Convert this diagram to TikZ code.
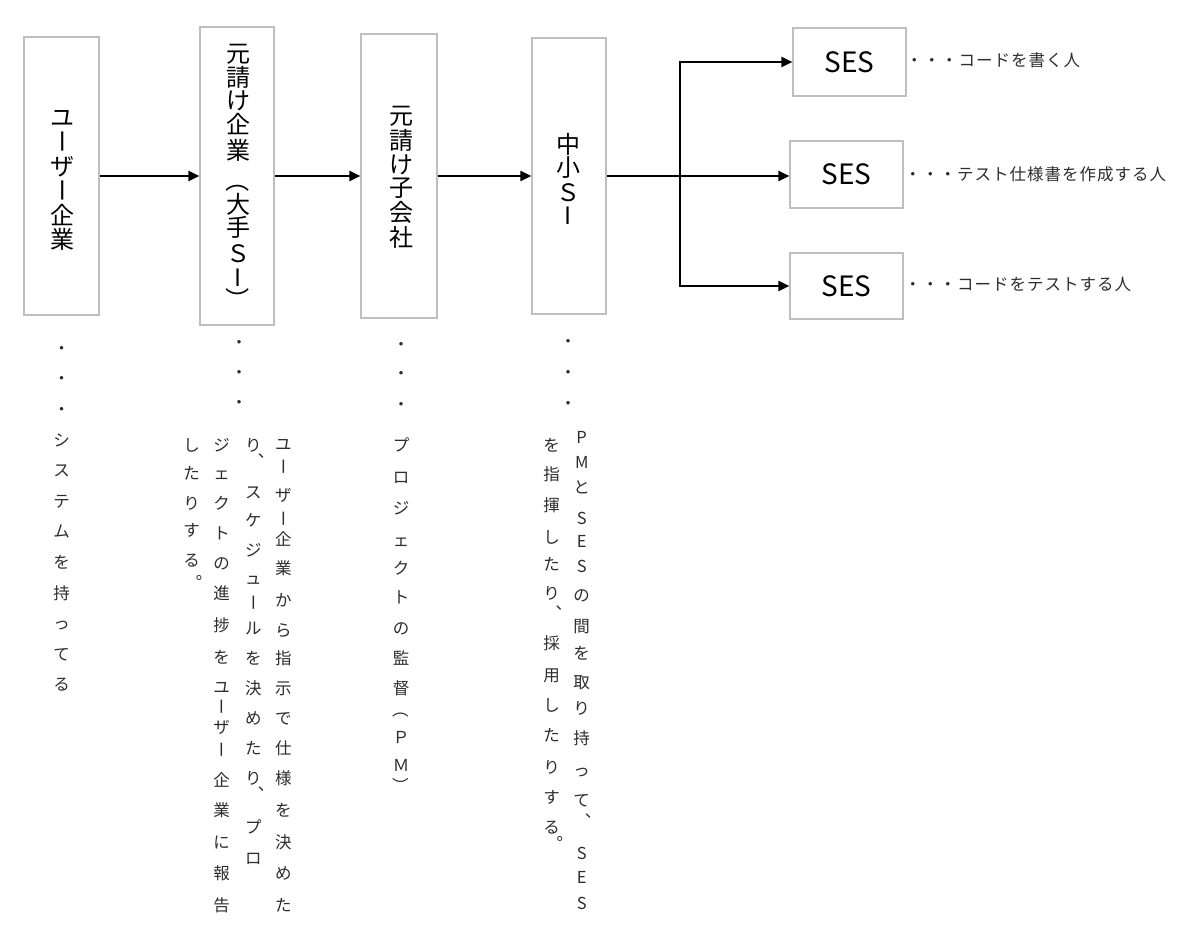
\documentclass[tikz,border=0pt]{standalone}
\usepackage{fontspec}
\usepackage{graphicx}
\setmainfont{Noto Sans CJK JP}
\newfontfamily\jpls[LetterSpace=6]{Noto Sans CJK JP}
\usetikzlibrary{arrows.meta}
\definecolor{boxgray}{RGB}{191,191,191}
\definecolor{txt}{RGB}{45,45,45}
% one character cell centred on the current point of a vertical list
\newcommand\cel[1]{\vbox to 0pt{\vss\hbox to 1em{\hss\vrule height .88em depth .12em width 0pt\relax#1\hss}\vss}}
% character whose em-box centre is at absolute y
\newcommand\at[2]{\vbox to 0pt{\kern\dimexpr#1pt-\ytop pt\relax\cel{#2}\vss}}
% punctuation whose ink centre is at absolute y, shifted right by #2
\newcommand\pu[3]{\vbox to 0pt{\kern\dimexpr#1pt-\ytop pt-.32em\relax\cel{\kern2\dimexpr#2pt+.29em\relax#3}\vss}}
% glyph turned for vertical writing
\newcommand\vv[1]{\rotatebox[origin=c]{-90}{\raisebox{0pt}[.88em][.12em]{#1}}}
% vertical column node: [style]{name}{x}{y first}{y last}{cells}
\newcommand\vcol[6][]{\node[vtext,#1] (#2) at (#3,{(#4+#5)/2}) {\def\ytop{#4}\vbox{\offinterlineskip\kern.5em #6\kern\dimexpr#5pt-#4pt+.5em\relax}};}
\tikzset{
  box/.style={draw=boxgray, line width=1.2pt, fill=white, inner sep=0pt},
  vtext/.style={inner sep=0pt, text=txt, font=\fontsize{16.5}{20}\selectfont},
  vhead/.style={text=black, font=\fontsize{24}{28}\selectfont},
  lab/.style={inner sep=0pt, anchor=west, text height=.88em, text depth=.12em, text=txt, font=\jpls\fontsize{16.5}{20}\selectfont},
  ses/.style={box, minimum width=113pt, font=\fontsize{28}{32}\selectfont},
  conn/.style={draw=black, line width=2pt, -{Triangle[length=11pt,width=10pt]}},
  conn2/.style={draw=black, line width=2pt, {Triangle[length=11pt,width=10pt]}-{Triangle[length=11pt,width=10pt]}},
}
\begin{document}
\begin{tikzpicture}[x=1pt,y=-1pt]
\useasboundingbox (0,0) rectangle (1200,936);
\fill[white] (0,0) rectangle (1200,936);
% boxes
\node[box, minimum width=75pt, minimum height=278pt] (b1) at (61.5,176) {};
\node[box, minimum width=74pt, minimum height=298pt] (b2) at (237,176) {};
\node[box, minimum width=76pt, minimum height=284pt] (b3) at (399,176) {};
\node[box, minimum width=74pt, minimum height=276pt] (b4) at (569,176) {};
\node[ses, minimum height=68pt] (s1) at (849.5,62) {SES};
\node[ses, minimum height=67pt] (s2) at (846.5,174.5) {SES};
\node[ses, minimum height=66pt] (s3) at (846.5,286) {SES};
% headings
\vcol[vhead]{h1}{62.5}{117}{239.5}{\at{117}{ユ}\at{141.5}{\vv{ー}}\at{166}{ザ}\at{190.5}{\vv{ー}}\at{215}{企}\at{239.5}{業}}
\vcol[vhead]{h2}{238}{53}{299}{\at{53}{元}\at{77.3}{請}\at{100}{け}\at{124}{企}\at{150}{業}\at{180}{\vv{（}}\at{204}{大}\at{227.3}{手}\at{253}{Ｓ}\at{277}{I}\at{299}{\vv{）}}}
\vcol[vhead]{h3}{401}{115}{237.3}{\at{115}{元}\at{140}{請}\at{164}{け}\at{187.3}{子}\at{212.3}{会}\at{237.3}{社}}
\vcol[vhead]{h4}{568.3}{144}{215.7}{\at{144}{中}\at{167.3}{小}\at{192.3}{Ｓ}\at{215.7}{I}}
% connectors
\draw[conn] (b1.east) -- (b2.west);
\draw[conn] (b2.east) -- (b3.west);
\draw[conn] (b3.east) -- (b4.west);
\draw[conn] (b4.east) -- (b4.east -| s2.west);
\coordinate (j3) at (680,286);
\draw[conn2] (s1.west) -| (j3) -- (s3.west);
% labels right
\node[lab] (l1) at (906,63) {・・・コードを書く人};
\node[lab] (l2) at (904.5,176.7) {・・・テスト仕様書を作成する人};
\node[lab] (l3) at (904.5,286.7) {・・・コードをテストする人};
% descriptions
\vcol{d1}{61.7}{348}{684.6}{\at{348}{・}\at{378.6}{・}\at{409.2}{・}\at{439.8}{シ}\at{470.4}{ス}\at{501}{テ}\at{531.6}{ム}\at{562.2}{を}\at{592.8}{持}\at{623.4}{っ}\at{654}{て}\at{684.6}{る}}
\vcol{d2}{239}{342.7}{402.7}{\at{342.7}{・}\at{372.7}{・}\at{402.7}{・}}
\vcol{d2a}{283.3}{444}{905}{\at{444}{ユ}\at{466.7}{\vv{ー}}\at{495}{ザ}\at{518.3}{\vv{ー}}\at{539.3}{企}\at{568.3}{業}\at{600}{か}\at{630}{ら}\at{658}{指}\at{688}{示}\at{718}{で}\at{748}{仕}\at{778}{様}\at{810}{を}\at{842}{決}\at{873}{め}\at{905}{た}}
\vcol{d2b}{253.3}{445.7}{858}{\at{445.7}{り}\pu{457}{8}{、}\at{492}{ス}\at{520}{ケ}\at{550}{ジ}\at{578}{ュ}\at{603}{\vv{ー}}\at{628}{ル}\at{658}{を}\at{688}{決}\at{718}{め}\at{748}{た}\at{778}{り}\pu{790}{8}{、}\at{827}{プ}\at{858}{ロ}}
\vcol{d2c}{221.7}{445}{905}{\at{445}{ジ}\at{473}{ェ}\at{503}{ク}\at{533}{ト}\at{563}{の}\at{593}{進}\at{625}{捗}\at{657}{を}\at{687}{ユ}\at{707}{\vv{ー}}\at{727}{ザ}\at{750}{\vv{ー}}\at{780}{企}\at{810}{業}\at{842}{に}\at{873}{報}\at{905}{告}}
\vcol{d2d}{191.7}{445}{560}{\at{445}{し}\at{473}{た}\at{503}{り}\at{530}{す}\at{560}{る}\pu{578.3}{7.6}{。}}
\vcol{d3}{401}{344}{786}{\at{344}{・}\at{373}{・}\at{404}{・}\at{445}{プ}\at{477}{ロ}\at{508}{ジ}\at{540}{ェ}\at{568}{ク}\at{597}{ト}\at{628}{の}\at{658}{監}\at{688}{督}\at{710}{\vv{（}}\at{737}{Ｐ}\at{765}{Ｍ}\at{786}{\vv{）}}}
\vcol{d4}{568}{341.5}{403}{\at{341.5}{・}\at{372}{・}\at{403}{・}}
\vcol{d4r}{581.7}{437.7}{903}{\at{437.7}{P}\at{462.7}{M}\at{487.7}{と}\at{518.5}{S}\at{541.5}{E}\at{566.5}{S}\at{595}{の}\at{626}{間}\at{653}{を}\at{682}{取}\at{708}{り}\at{738}{持}\at{770}{っ}\at{800}{て}\pu{816.7}{6.6}{、}\at{853}{S}\at{877}{E}\at{903}{S}}
\vcol{d4l}{551.7}{445}{827}{\at{445}{を}\at{474}{指}\at{505}{揮}\at{537.7}{し}\at{564.6}{た}\at{593.5}{り}\pu{609}{7.5}{、}\at{643}{採}\at{675}{用}\at{705}{し}\at{735}{た}\at{767}{り}\at{797}{す}\at{827}{る}\pu{840}{8.3}{。}}
\end{tikzpicture}
\end{document}
